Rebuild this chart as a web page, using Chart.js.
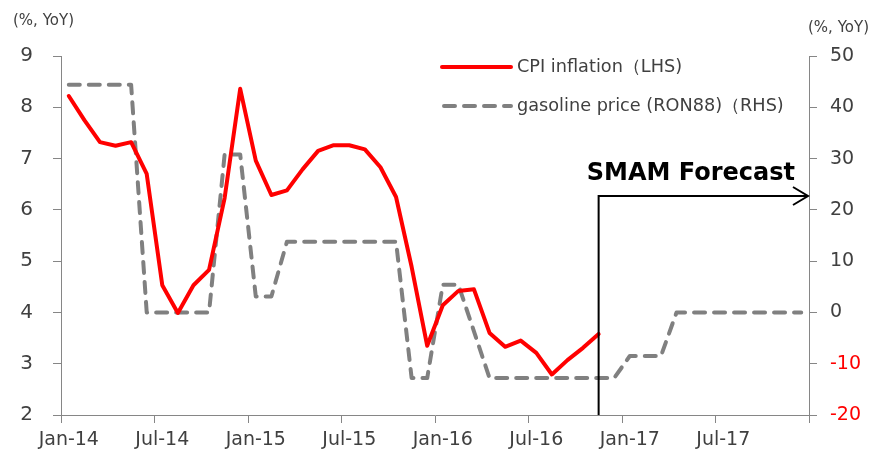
<!DOCTYPE html>
<html><head><meta charset="utf-8">
<script src="https://cdn.jsdelivr.net/npm/chart.js@4/dist/chart.umd.min.js"></script>
<style>html,body{margin:0;padding:0;background:#fff;overflow:hidden}canvas{display:block}</style>
</head><body>
<canvas id="c" width="876" height="453"></canvas>
<script>
const months = [
 'Jan-14','Feb-14','Mar-14','Apr-14','May-14','Jun-14','Jul-14','Aug-14','Sep-14','Oct-14','Nov-14','Dec-14',
 'Jan-15','Feb-15','Mar-15','Apr-15','May-15','Jun-15','Jul-15','Aug-15','Sep-15','Oct-15','Nov-15','Dec-15',
 'Jan-16','Feb-16','Mar-16','Apr-16','May-16','Jun-16','Jul-16','Aug-16','Sep-16','Oct-16','Nov-16','Dec-16',
 'Jan-17','Feb-17','Mar-17','Apr-17','May-17','Jun-17','Jul-17','Aug-17','Sep-17','Oct-17','Nov-17','Dec-17'];
const cpiInflation = [8.22,7.75,7.32,7.25,7.32,6.70,4.53,3.99,4.53,4.83,6.23,8.36,
 6.96,6.29,6.38,6.79,7.15,7.26,7.26,7.18,6.83,6.25,4.89,3.35,
 4.14,4.42,4.45,3.60,3.33,3.45,3.21,2.79,3.07,3.31,3.58];
const gasolinePrice = [44.4,44.4,44.4,44.4,44.4,0,0,0,0,0,30.8,30.8,
 3.1,3.1,13.8,13.8,13.8,13.8,13.8,13.8,13.8,13.8,-12.8,-12.8,
 5.4,5.4,-3.7,-12.8,-12.8,-12.8,-12.8,-12.8,-12.8,-12.8,-12.8,-12.8,
 -8.5,-8.5,-8.5,0,0,0,0,0,0,0,0,0];
const leftTicks = {min:2, max:9, step:1};
const rightTicks = {min:-20, max:50, step:10};
const seriesNames = ['CPI inflation（LHS)', 'gasoline price (RON88)（RHS)'];
const unitLabel = '(%, YoY)';
const forecastLabel = 'SMAM Forecast';
const forecastStart = 'Nov-16';
const forecastArrowLevel = 6.27; // LHS value at which the arrow runs

const AXIS = '#868686', TXT = '#404040', RED = '#ff0000', GREY = '#808080';
const FONT = 'DejaVu Sans';

const overlay = {
  id: 'overlay',
  afterDraw(chart) {
    const ctx = chart.ctx, ca = chart.chartArea;
    const x = chart.scales.x, y = chart.scales.y;
    ctx.save();
    // unit labels
    ctx.fillStyle = TXT; ctx.font = '15px ' + FONT; ctx.textBaseline = 'middle';
    ctx.textAlign = 'left'; ctx.fillText(unitLabel, 13, 21);
    ctx.textAlign = 'right'; ctx.fillText(unitLabel, 869, 28);
    // legend
    const lx0 = 442, lx1 = 511;
    ctx.lineCap = 'round';
    ctx.strokeStyle = RED; ctx.lineWidth = 4; ctx.setLineDash([]);
    ctx.beginPath(); ctx.moveTo(lx0, 67); ctx.lineTo(lx1, 67); ctx.stroke();
    ctx.strokeStyle = GREY; ctx.setLineDash([11, 9]);
    ctx.beginPath(); ctx.moveTo(lx0 + 2, 106); ctx.lineTo(lx1, 106); ctx.stroke();
    ctx.setLineDash([]);
    ctx.fillStyle = TXT; ctx.font = '17.7px ' + FONT; ctx.textAlign = 'left';
    ctx.fillText(seriesNames[0], 517, 67);
    ctx.fillText(seriesNames[1], 517, 106);
    // forecast annotation
    const fx = x.getPixelForValue(months.indexOf(forecastStart));
    const fy = y.getPixelForValue(forecastArrowLevel);
    ctx.strokeStyle = '#000'; ctx.lineWidth = 2; ctx.lineCap = 'butt';
    ctx.beginPath(); ctx.moveTo(fx, ca.bottom); ctx.lineTo(fx, fy); ctx.lineTo(ca.right - 1, fy); ctx.stroke();
    ctx.beginPath(); ctx.moveTo(ca.right - 16, fy - 9); ctx.lineTo(ca.right - 1, fy); ctx.lineTo(ca.right - 16, fy + 9); ctx.stroke();
    ctx.fillStyle = '#000'; ctx.font = 'bold 24px ' + FONT; ctx.textAlign = 'right'; ctx.textBaseline = 'alphabetic';
    ctx.fillText(forecastLabel, ca.right - 14, fy - 16);
    ctx.restore();
  }
};

new Chart(document.getElementById('c'), {
  type: 'line',
  data: {
    labels: months,
    datasets: [
      {label: seriesNames[0], data: cpiInflation, yAxisID: 'y', borderColor: RED, borderWidth: 4,
       pointRadius: 0, tension: 0, borderJoinStyle: 'round', borderCapStyle: 'round', spanGaps: false},
      {label: seriesNames[1], data: gasolinePrice, yAxisID: 'y1', borderColor: GREY, borderWidth: 4,
       borderDash: [11, 9], borderCapStyle: 'round', borderJoinStyle: 'round', pointRadius: 0, tension: 0}
    ]
  },
  options: {
    responsive: false, animation: false, devicePixelRatio: 1,
    layout: {padding: {top: 56, left: 0, right: 0, bottom: 0}},
    plugins: {legend: {display: false}, tooltip: {enabled: false}},
    scales: {
      x: {
        type: 'category', offset: true,
        grid: {offset: true, drawOnChartArea: false, drawTicks: true, tickLength: 8,
               tickColor: c => (c.index === undefined || c.index % 6 === 0) ? AXIS : 'rgba(0,0,0,0)'},
        border: {color: AXIS, width: 1},
        ticks: {autoSkip: false, maxRotation: 0, minRotation: 0, padding: 6, color: TXT,
                font: {family: FONT, size: 19},
                callback: function(v, i) { return i % 6 === 0 ? this.getLabelForValue(v) : ''; }},
        afterFit: s => { s.height = 38; }
      },
      y: {
        position: 'left', min: leftTicks.min, max: leftTicks.max,
        grid: {drawOnChartArea: false, tickLength: 8, tickColor: AXIS},
        border: {color: AXIS, width: 1},
        ticks: {stepSize: leftTicks.step, padding: 20, color: TXT, font: {family: FONT, size: 20}},
        afterFit: s => { s.width = 61; }
      },
      y1: {
        position: 'right', min: rightTicks.min, max: rightTicks.max,
        grid: {drawOnChartArea: false, tickLength: 8, tickColor: AXIS},
        border: {color: AXIS, width: 1},
        ticks: {stepSize: rightTicks.step, padding: 13, font: {family: FONT, size: 19},
                color: c => c.tick && c.tick.value < 0 ? RED : TXT},
        afterFit: s => { s.width = 67; }
      }
    }
  },
  plugins: [overlay]
});
</script>
</body></html>
